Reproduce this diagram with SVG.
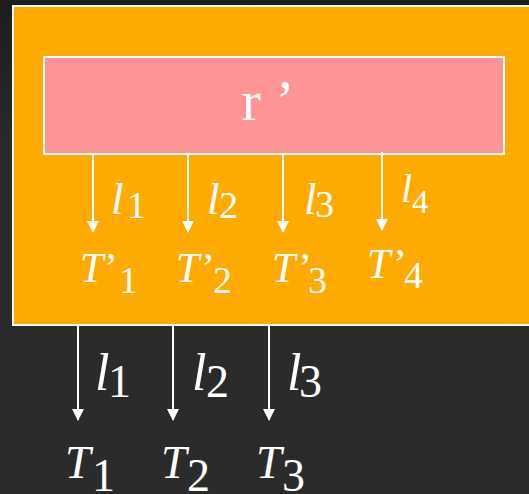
<svg xmlns="http://www.w3.org/2000/svg" width="529" height="494" viewBox="0 0 529 494">
<defs>
<style>
text { font-family: 'Liberation Serif', 'Times New Roman', serif; fill: #ffffff; }
.it { font-style: italic; }
.wire { stroke: #ffffff; stroke-width: 2; fill: none; }
</style>
<linearGradient id="bg" x1="0" y1="0" x2="0" y2="494" gradientUnits="userSpaceOnUse">
<stop offset="0" stop-color="#1d1d1d"/>
<stop offset="0.3" stop-color="#2a2a2a"/>
<stop offset="1" stop-color="#2b2b2b"/>
</linearGradient>
<marker id="ah" markerUnits="userSpaceOnUse" markerWidth="12" markerHeight="12" refX="11" refY="6" orient="auto">
<path d="M0,0 L12,6 L0,12 Z" fill="#fff"/>
</marker>
</defs>
<rect width="529" height="494" fill="url(#bg)"/>
<g id="outer">
<rect x="13" y="6" width="520" height="319" fill="#ffaa00" stroke="#fff" stroke-width="2"/>
</g>
<g id="r">
<rect x="44" y="57" width="460" height="97" fill="#ff9494" stroke="#fff" stroke-width="2"/>
<text x="268" y="120" font-size="58" text-anchor="middle">r ’</text>
</g>
<g id="connectors">
<line class="wire" x1="93" y1="154" x2="93" y2="232" marker-end="url(#ah)"/>
<line class="wire" x1="188" y1="154" x2="188" y2="232" marker-end="url(#ah)"/>
<line class="wire" x1="283" y1="154" x2="283" y2="232" marker-end="url(#ah)"/>
<line class="wire" x1="382" y1="152" x2="382" y2="230" marker-end="url(#ah)"/>
<line class="wire" x1="78" y1="325" x2="78" y2="420" marker-end="url(#ah)"/>
<line class="wire" x1="173" y1="325" x2="173" y2="420" marker-end="url(#ah)"/>
<line class="wire" x1="269" y1="325" x2="269" y2="420" marker-end="url(#ah)"/>
</g>
<g id="labels-top">
<text class="it" x="111" y="214" font-size="45">l</text><text x="127" y="218" font-size="38">1</text>
<text class="it" x="207" y="214" font-size="45">l</text><text x="219" y="218" font-size="38">2</text>
<text class="it" x="304" y="214" font-size="45">l</text><text x="315" y="217" font-size="38">3</text>
<text class="it" x="401" y="202" font-size="40">l</text><text x="412" y="213" font-size="33">4</text>
</g>
<g id="T1p"><text class="it" x="80" y="282" font-size="42">T</text><text x="104" y="282" font-size="42">’</text><text x="119" y="293" font-size="38">1</text></g>
<g id="T2p"><text class="it" x="176" y="282" font-size="42">T</text><text x="201" y="282" font-size="42">’</text><text x="213" y="293" font-size="38">2</text></g>
<g id="T3p"><text class="it" x="272" y="282" font-size="42">T</text><text x="298" y="282" font-size="42">’</text><text x="308" y="293" font-size="38">3</text></g>
<g id="T4p"><text class="it" x="367" y="278" font-size="42">T</text><text x="393" y="278" font-size="42">’</text><text x="404" y="288" font-size="38">4</text></g>
<g id="labels-bottom">
<text class="it" x="95" y="390" font-size="52">l</text><text x="108" y="397" font-size="46">1</text>
<text class="it" x="192" y="390" font-size="52">l</text><text x="206" y="397" font-size="46">2</text>
<text class="it" x="287" y="390" font-size="52">l</text><text x="299" y="397" font-size="46">3</text>
</g>
<g id="T1"><text class="it" x="65" y="478" font-size="46">T</text><text x="92" y="491" font-size="46">1</text></g>
<g id="T2"><text class="it" x="161" y="478" font-size="46">T</text><text x="187" y="491" font-size="46">2</text></g>
<g id="T3"><text class="it" x="256" y="478" font-size="46">T</text><text x="282" y="491" font-size="46">3</text></g>
</svg>
